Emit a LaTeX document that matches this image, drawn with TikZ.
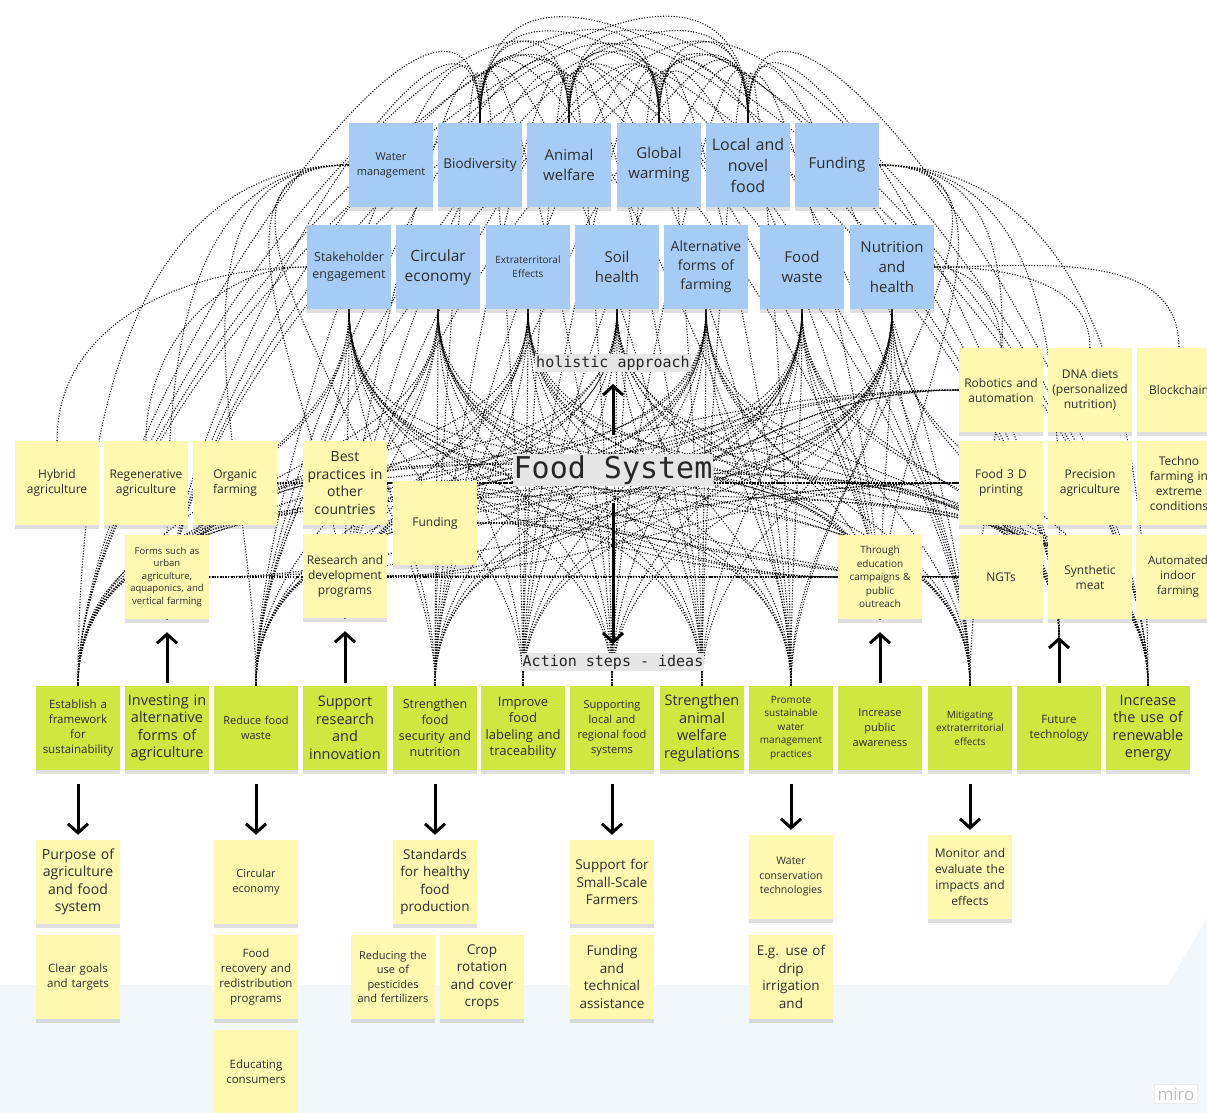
\documentclass[tikz,border=0pt]{standalone}
\usepackage{fontspec}
\setmainfont{Open Sans}
\newfontfamily\monofont{DejaVu Sans Mono}
\usetikzlibrary{arrows.meta,shadows}

\definecolor{noteblue}{RGB}{166,204,245}
\definecolor{noteyellow}{RGB}{254,248,176}
\definecolor{notegreen}{RGB}{206,231,65}
\definecolor{boardblue}{RGB}{241,247,250}
\definecolor{taggray}{RGB}{230,230,230}
\definecolor{notetext}{RGB}{45,45,45}

\pgfdeclarelayer{back}
\pgfdeclarelayer{links}
\pgfsetlayers{back,links,main}

\tikzset{
  note/.style={minimum width=84pt,minimum height=84pt,text width=80pt,inner sep=0pt,
    align=center,text=notetext,
    drop shadow={shadow xshift=0pt,shadow yshift=-4pt,opacity=.25}},
  bluenote/.style={note,fill=noteblue},
  yellownote/.style={note,fill=noteyellow},
  greennote/.style={note,fill=notegreen},
  fs/.style 2 args={font=\fontsize{#1}{#2}\selectfont},
  tag/.style={fill=taggray,inner xsep=1pt,inner ysep=1.5pt,text=black!85},
  link/.style={line width=1.05pt,dash pattern=on 1.1pt off 1.6pt},
  bigarrow/.style={line width=3pt,-{Straight Barb[length=9pt,width=20pt]}},
}

\begin{document}
\begin{tikzpicture}[x=1pt,y=-1pt]
    \useasboundingbox (0,0) rectangle (1207,1113);

    % Board
    \begin{pgfonlayer}{back}
    \fill[white] (0,0) rectangle (1207,1113);
    \fill[boardblue] (0,985) -- (1168,985) -- (1207,918) -- (1207,1113) -- (0,1113) -- cycle;
    \end{pgfonlayer}

    % Topics (top rows)
    \node[bluenote,fs={11}{15}] (watm) at (391,165) {Water\\management};
    \node[bluenote,fs={13.5}{18}] (biod) at (480,165) {Biodiversity};
    \node[bluenote,fs={15}{20}] (anim) at (569,165) {Animal\\welfare};
    \node[bluenote,fs={15}{20}] (glob) at (659,165) {Global\\warming};
    \node[bluenote,fs={16}{21}] (locf) at (748,165) {Local and\\novel\\food};
    \node[bluenote,fs={15}{20}] (fund) at (837,165) {Funding};

    \node[bluenote,fs={12.5}{17}] (stak) at (349,267) {Stakeholder\\engagement};
    \node[bluenote,fs={15.5}{20}] (circ) at (438,267) {Circular\\economy};
    \node[bluenote,fs={10}{14}] (extr) at (528,267) {Extraterritoral\\Effects};
    \node[bluenote,fs={15}{20}] (soil) at (617,267) {Soil\\health};
    \node[bluenote,fs={14}{19}] (altf) at (706,267) {Alternative\\forms of\\farming};
    \node[bluenote,fs={15}{20}] (fwst) at (802,267) {Food\\waste};
    \node[bluenote,fs={15}{20}] (nutr) at (892,267) {Nutrition\\and\\health};

    % Headings
    \node[tag,font=\monofont\fontsize{15}{15}\selectfont] (holi) at (613,363) {holistic approach};
    \node[tag,font=\monofont\fontsize{30}{30}\selectfont] (food) at (613,470) {Food System};
    \node[tag,font=\monofont\fontsize{15}{15}\selectfont] (actn) at (613,662) {Action steps - ideas};

    % Farming forms (left)
    \node[yellownote,fs={12}{15}] (hybr) at (57,483) {Hybrid\\agriculture};
    \node[yellownote,fs={12}{15}] (regn) at (146,483) {Regenerative\\agriculture};
    \node[yellownote,fs={12}{15}] (orgn) at (235,483) {Organic\\farming};
    \node[yellownote,fs={14}{17.5}] (best) at (345,483) {Best\\practices in\\other\\countries};
    \node[yellownote,fs={12}{15}] (fnd2) at (435,523) {Funding};
    \node[yellownote,fs={9.5}{12.5}] (frms) at (167,577) {Forms such as\\urban\\agriculture,\\aquaponics, and\\vertical farming};
    \node[yellownote,fs={12}{15}] (rsch) at (345,576) {Research and\\development\\programs};

    % Technology (right)
    \node[yellownote,fs={12}{15}] (robo) at (1001,390) {Robotics and\\automation};
    \node[yellownote,fs={12}{15}] (dnad) at (1090,390) {DNA diets\\(personalized\\nutrition)};
    \node[yellownote,fs={12}{15}] (blck) at (1179,390) {Blockchain};
    \node[yellownote,fs={12}{15}] (f3dp) at (1001,483) {Food 3 D\\printing};
    \node[yellownote,fs={12}{15}] (prec) at (1090,483) {Precision\\agriculture};
    \node[yellownote,fs={12}{15}] (tech) at (1179,483) {Techno\\farming in\\extreme\\conditions};
    \node[yellownote,fs={12}{15}] (ngts) at (1001,577) {NGTs};
    \node[yellownote,fs={12}{15}] (synt) at (1090,577) {Synthetic\\meat};
    \node[yellownote,fs={11.5}{15}] (auto) at (1178,577) {Automated\\indoor\\farming};
    \node[yellownote,fs={10}{13.5}] (thru) at (880,577) {Through\\education\\campaigns \&\\public\\outreach};

    % Action steps
    \node[greennote,fs={11.5}{15}] (estb) at (78,728) {Establish a\\framework\\for\\sustainability};
    \node[greennote,fs={14.5}{17.5}] (invs) at (167,728) {Investing in\\alternative\\forms of\\agriculture};
    \node[greennote,fs={11}{15}] (rfwa) at (256,728) {Reduce food\\waste};
    \node[greennote,fs={14.5}{17.5}] (sres) at (345,728) {Support\\research\\and\\innovation};
    \node[greennote,fs={12.5}{16}] (sfsn) at (435,728) {Strengthen\\food\\security and\\nutrition};
    \node[greennote,fs={13}{16.5}] (iflt) at (523,728) {Improve\\food\\labeling and\\traceability};
    \node[greennote,fs={11}{15}] (slrf) at (612,728) {Supporting\\local and\\regional food\\systems};
    \node[greennote,fs={14.5}{17.5}] (sawr) at (702,728) {Strengthen\\animal\\welfare\\regulations};
    \node[greennote,fs={10}{13.5}] (pswm) at (791,728) {Promote\\sustainable\\water\\management\\practices};
    \node[greennote,fs={11}{15}] (ipaw) at (880,728) {Increase\\public\\awareness};
    \node[greennote,fs={10}{13.5}] (mext) at (970,728) {Mitigating\\extraterritorial\\effects};
    \node[greennote,fs={11.5}{15}] (ftec) at (1059,728) {Future\\technology};
    \node[greennote,fs={14.5}{17.5}] (iren) at (1148,728) {Increase\\the use of\\renewable\\energy};

    % Ideas below
    \node[yellownote,fs={14}{17.5}] (purp) at (78,882) {Purpose of\\agriculture\\and food\\system};
    \node[yellownote,fs={11.5}{15}] (cgoa) at (78,977) {Clear goals\\and targets};
    \node[yellownote,fs={11}{15}] (circ2) at (256,882) {Circular\\economy};
    \node[yellownote,fs={11.5}{15}] (frec) at (256,977) {Food\\recovery and\\redistribution\\programs};
    \node[yellownote,fs={11.5}{15}] (educ) at (256,1072) {Educating\\consumers};
    \node[yellownote,fs={13.5}{17.5}] (stdh) at (435,882) {Standards\\for healthy\\food\\production};
    \node[yellownote,fs={11}{14.5}] (rpes) at (393,977) {Reducing the\\use of\\pesticides\\and fertilizers};
    \node[yellownote,fs={13.5}{17.5}] (crop) at (482,977) {Crop\\rotation\\and cover\\crops};
    \node[yellownote,fs={13.5}{17.5}] (ssfa) at (612,882) {Support for\\Small-Scale\\Farmers};
    \node[yellownote,fs={13.5}{17.5}] (ftas) at (612,977) {Funding\\and\\technical\\assistance};
    \node[yellownote,fs={10.5}{14.5}] (wcon) at (791,877) {Water\\conservation\\technologies};
    \node[yellownote,fs={13.5}{17.5}] (drip) at (791,977) {E.g. use of\\drip\\irrigation\\and};
    \node[yellownote,fs={12}{16}] (mone) at (970,877) {Monitor and\\evaluate the\\impacts and\\effects};

    \coordinate (ftip) at (1059,637);

    % Arrows
    \draw[bigarrow,shorten <=19pt,shorten >=12pt] (food) -- (holi);
    \draw[bigarrow,shorten <=17pt,shorten >=9pt] (food) -- (actn);
    \foreach \a/\b in {estb/purp,rfwa/circ2,sfsn/stdh,slrf/ssfa,pswm/wcon,mext/mone}
        \draw[bigarrow,shorten <=14pt,shorten >=5pt] (\a) -- (\b);
    \foreach \a/\b in {invs/frms,sres/rsch,ipaw/thru}
        \draw[bigarrow,shorten <=3pt,shorten >=13pt] (\a) -- (\b);
    \draw[bigarrow,shorten <=3pt] (ftec.north) -- (ftip);

    % Dotted links
    \begin{pgfonlayer}{links}
    \foreach \e in {estb.north,frms.south,rfwa.north,rsch.south,sfsn.north,iflt.north,slrf.north,
                    sawr.north,pswm.north,thru.south,mext.north,ftip,iren.north} {
        \foreach \b in {biod,anim,glob,locf}
            \draw[link] (\e) to[out=90,in=90] (\b.north);
        \foreach \b in {stak,circ,extr,soil,altf,fwst,nutr}
            \draw[link] (\e) to[out=90,in=-90] (\b.south);
    }
    \foreach \e in {estb.north,frms.south,rfwa.north,rsch.south,sfsn.north}
        \draw[link] (watm.west) to[out=180,in=90] (\e);
    \foreach \e in {pswm.north,thru.south,mext.north,ftip,iren.north}
        \draw[link] (fund.east) to[out=0,in=90] (\e);
    \foreach \l in {orgn,best,fnd2,frms,rsch}
        \foreach \r in {robo,f3dp,ngts,thru}
            \draw[link] (\l.east) to[out=0,in=180] (\r.west);
    \foreach \r in {hybr,regn}
        \draw[link] (stak.west) to[out=180,in=90] (\r.north);
    \foreach \r in {robo,dnad,blck}
        \draw[link] (nutr.east) to[out=0,in=90] (\r.north);
    \end{pgfonlayer}

    % Watermark
    \node[draw=black!8,fill=white,text=black!25,inner sep=3pt,font=\fontsize{17}{17}\selectfont] (miro) at (1176,1094) {miro};
\end{tikzpicture}
\end{document}
